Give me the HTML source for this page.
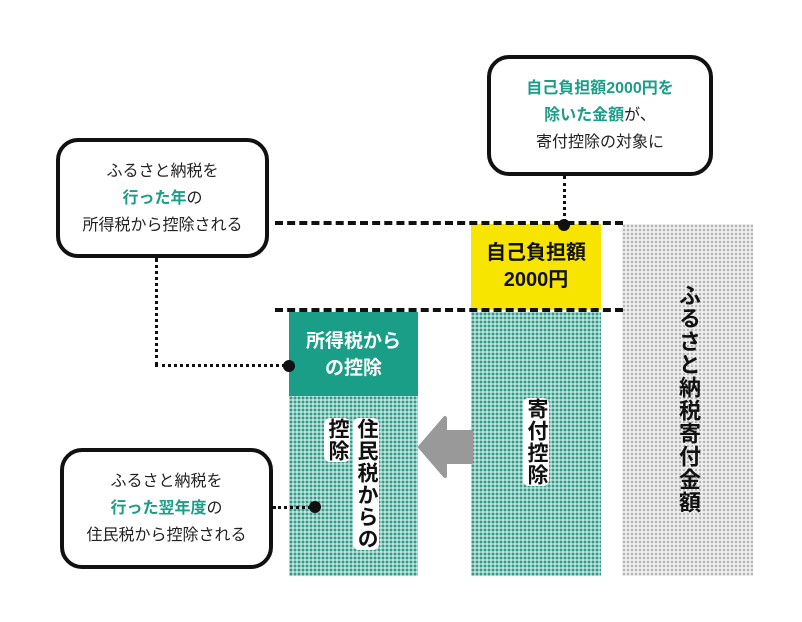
<!DOCTYPE html>
<html><head><meta charset="utf-8"><style>
body{margin:0;width:802px;height:622px;background:#fff;position:relative;overflow:hidden;font-family:"Liberation Sans","Noto Sans CJK JP",sans-serif;}
.a{position:absolute;}
.box{position:absolute;border:4px solid #111;border-radius:22px;background:#fff;text-align:center;font-size:16px;line-height:27px;color:#222;box-sizing:border-box;display:flex;flex-direction:column;justify-content:center;}
.g{color:#1a9e88;font-weight:bold;}
.dot{background-color:#c4e3dd;background-image:radial-gradient(circle,#2f9f8b 1.3px,transparent 1.6px);background-size:4px 4px;}
.gray{background-color:#eeeeee;background-image:radial-gradient(circle,#b5b5b5 1.1px,transparent 1.4px);background-size:4px 4px;}
.dash{position:absolute;height:0;border-top:4px dashed #111;}
.vt{position:absolute;writing-mode:vertical-rl;font-weight:bold;font-size:21px;color:#111;background:#fff;line-height:26px;letter-spacing:1px;border-radius:6px;}
.vd{position:absolute;width:0;border-left:3px dotted #111;}
.hd{position:absolute;height:0;border-top:3px dotted #111;}
.bd{position:absolute;width:12px;height:12px;border-radius:50%;background:#111;}
</style></head><body>
<div class="box" style="left:487px;top:55px;width:226px;height:121px;"><div><span class="g">自己負担額2000円を</span></div><div><span class="g">除いた金額</span>が、</div><div>寄付控除の対象に</div></div>
<div class="box" style="left:56px;top:138px;width:213px;height:120px;"><div>ふるさと納税を</div><div><span class="g">行った年</span>の</div><div>所得税から控除される</div></div>
<div class="box" style="left:60px;top:448px;width:213px;height:121px;"><div>ふるさと納税を</div><div><span class="g">行った翌年度</span>の</div><div>住民税から控除される</div></div>

<div class="a gray" style="left:622px;top:224px;width:131px;height:352px;"></div>
<div class="a" style="left:471px;top:224px;width:130px;height:86px;background:#f7e500;text-align:center;font-weight:bold;font-size:20px;line-height:27px;padding-top:16px;box-sizing:border-box;color:#111">自己負担額<br>2000円</div>
<div class="a dot" style="left:471px;top:312px;width:130px;height:264px;"></div>
<div class="a" style="left:289px;top:312px;width:129px;height:84px;background:#1a9e88;color:#fff;font-weight:bold;font-size:19px;line-height:27px;text-align:center;padding-top:16px;box-sizing:border-box;">所得税から<br>の控除</div>
<div class="a dot" style="left:289px;top:396px;width:129px;height:180px;"></div>

<div class="dash" style="left:275px;top:221px;width:348px;"></div>
<div class="dash" style="left:275px;top:308px;width:348px;"></div>

<svg class="a" style="left:415px;top:410px" width="60" height="75"><path d="M5 37 L30 8 L30 22 L56 22 L56 52 L30 52 L30 66 Z" fill="#999" stroke="#999" stroke-linejoin="round" stroke-width="4"/></svg>

<div class="vt" style="left:523px;top:398px;">寄付控除</div>
<div class="vt" style="left:353px;top:418px;">住民税からの</div>
<div class="vt" style="left:324px;top:418px;">控除</div>
<div class="vt" style="left:674px;top:284px;background:none;font-size:22px;line-height:28px;">ふるさと納税寄付金額</div>

<div class="vd" style="left:563px;top:176px;height:46px;"></div>
<div class="bd" style="left:558px;top:219px;"></div>
<div class="vd" style="left:155px;top:258px;height:108px;"></div>
<div class="hd" style="left:155px;top:364px;width:130px;"></div>
<div class="bd" style="left:283px;top:360px;"></div>
<div class="hd" style="left:273px;top:506px;width:38px;"></div>
<div class="bd" style="left:309px;top:501px;"></div>
</body></html>
